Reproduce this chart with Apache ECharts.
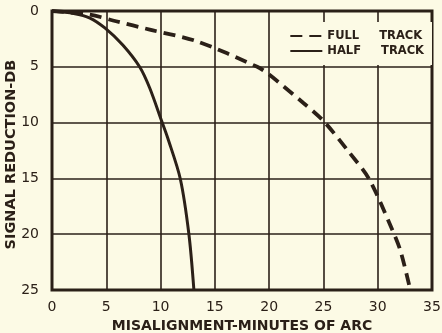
<!DOCTYPE html>
<html>
<head>
<meta charset="utf-8">
<script src="https://cdn.jsdelivr.net/npm/echarts@6/dist/echarts.min.js"></script>
<style>
  html, body { margin: 0; padding: 0; background: #fcfae5; }
  #chart { width: 442px; height: 333px; }
</style>
</head>
<body>
<div id="chart"></div>
<script>
// Misalignment (minutes of arc) against signal loss (dB)
const fullTrackMinutes = [0, 3.5, 5.9, 9, 13.3, 18.9, 20, 23.1, 25, 27.4, 29.2, 31.25, 32.1, 33.0];
const fullTrackDb      = [0, 0.33, 0.92, 1.67, 2.7, 5, 5.7, 8.2, 9.85, 12.7, 15.05, 19.4, 21.5, 25];
const halfTrackMinutes = [0, 2, 3.5, 4.87, 6.52, 8.08, 9.0, 10.1, 10.66, 11.82, 12.61, 13.07];
const halfTrackDb      = [0, 0.22, 0.63, 1.52, 3.05, 5.02, 6.9, 9.86, 11.38, 15.05, 20, 25];
const xTicks = [0, 5, 10, 15, 20, 25, 30, 35];
const yTicks = [0, 5, 10, 15, 20, 25];
const yTitle = 'SIGNAL REDUCTION-DB';

const ink = '#2b2018';
const paper = '#fcfae5';
const font = 'DejaVu Sans';

function pairs(xs, ys) { return xs.map((x, i) => [x, ys[i]]); }

const chart = echarts.init(document.getElementById('chart'));
chart.setOption({
  backgroundColor: paper,
  animation: false,
  grid: {
    left: 52, top: 11, right: 10, bottom: 43,
    outerBoundsMode: 'none',
    show: true, borderColor: ink, borderWidth: 3, backgroundColor: paper
  },
  legend: {
    orient: 'vertical',
    right: 10, top: 22,
    itemWidth: 32, itemHeight: 12, itemGap: 3,
    backgroundColor: paper,
    padding: [8, 8, 8, 4],
    itemStyle: { opacity: 0 },
    formatter: name => name.replace(' ', '     '),
    textStyle: { color: ink, fontFamily: font, fontSize: 11.5, fontWeight: 'bold' },
    data: ['FULL TRACK', 'HALF TRACK']
  },
  xAxis: {
    type: 'value', min: xTicks[0], max: xTicks[xTicks.length - 1], interval: 5,
    name: 'MISALIGNMENT-MINUTES OF ARC',
    nameLocation: 'middle', nameGap: 24,
    nameTextStyle: { color: ink, fontFamily: font, fontSize: 14, fontWeight: 'bold' },
    axisLine: { show: false },
    axisTick: { show: false },
    axisLabel: { color: ink, fontFamily: font, fontSize: 14, margin: 10 },
    splitLine: { lineStyle: { color: ink, width: 1.6 } }
  },
  yAxis: {
    type: 'value', inverse: true,
    min: yTicks[0], max: yTicks[yTicks.length - 1], interval: 5,
    axisLine: { show: false },
    axisTick: { show: false },
    axisLabel: { show: false },
    splitLine: { lineStyle: { color: ink, width: 1.6 } }
  },
  series: [
    {
      name: 'FULL TRACK', type: 'line', smooth: 0.3, symbol: 'none',
      data: pairs(fullTrackMinutes, fullTrackDb),
      lineStyle: { color: ink, width: 3.8, type: [12, 7] },
      itemStyle: { color: ink, opacity: 0 }
    },
    {
      name: 'HALF TRACK', type: 'line', smooth: 0.3, symbol: 'none',
      data: pairs(halfTrackMinutes, halfTrackDb),
      lineStyle: { color: ink, width: 3 },
      itemStyle: { color: ink, opacity: 0 }
    }
  ]
});

// dB tick labels, right-aligned just left of the frame, placed through the y scale
const gridLeft = chart.convertToPixel({ gridIndex: 0 }, [xTicks[0], yTicks[0]])[0];
const tickTexts = yTicks.map(v => {
  const y = chart.convertToPixel({ gridIndex: 0 }, [xTicks[0], v])[1];
  return {
    type: 'text', x: gridLeft - 13, y: y, silent: true,
    style: {
      text: String(v), fill: ink, fontFamily: font, fontSize: 14,
      align: 'right', verticalAlign: 'middle'
    }
  };
});
const yTop = chart.convertToPixel({ gridIndex: 0 }, [0, yTicks[0]])[1];
const yBottom = chart.convertToPixel({ gridIndex: 0 }, [0, yTicks[yTicks.length - 1]])[1];
const titleText = {
  type: 'text', x: 11, y: (yTop + yBottom) / 2 + 4, rotation: Math.PI / 2, silent: true,
  style: {
    text: yTitle, fill: ink, fontFamily: font, fontSize: 14.5, fontWeight: 'bold',
    align: 'center', verticalAlign: 'middle'
  }
};
chart.setOption({ graphic: tickTexts.concat([titleText]) });
</script>
</body>
</html>
